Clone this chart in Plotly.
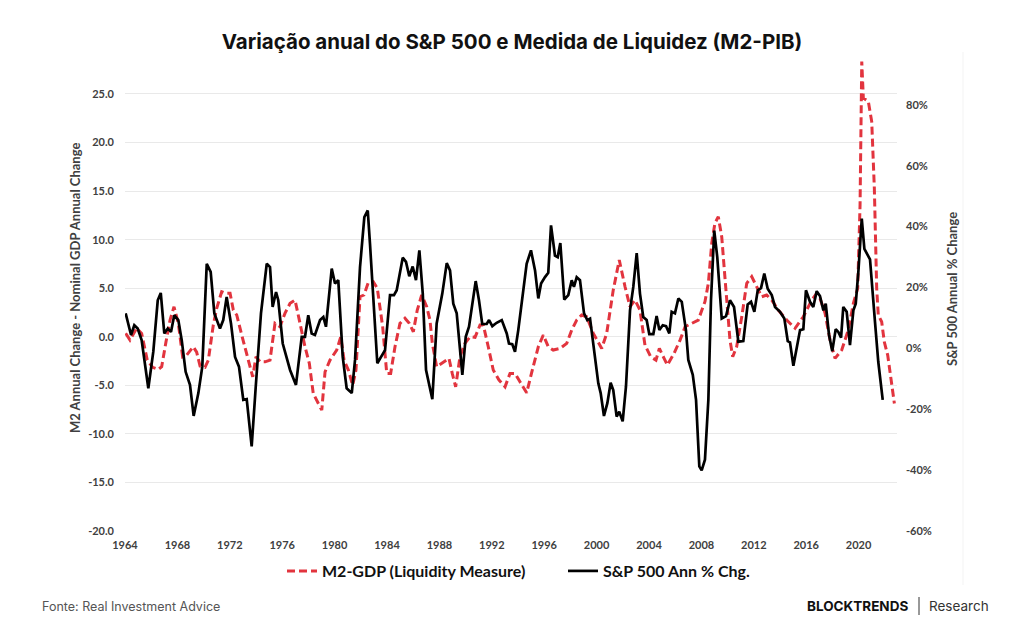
import plotly.graph_objects as go

# ---- Data ----
m2_years = [1964.05, 1964.38, 1964.89, 1965.27, 1965.70, 1966.11, 1966.54, 1966.80, 1967.13, 1967.44,
            1967.74, 1968.07, 1968.40, 1968.71, 1969.21, 1969.47, 1969.73, 1970.11, 1970.36, 1970.74,
            1971.00, 1971.38, 1971.69, 1972.02, 1972.27, 1972.53, 1972.91, 1973.29, 1973.75, 1974.00,
            1974.31, 1974.69, 1975.07, 1975.45, 1975.83, 1976.21, 1976.60, 1976.98, 1977.36, 1977.74,
            1978.07, 1978.37, 1978.76, 1979.02, 1979.27, 1979.65, 1980.16, 1980.47, 1980.72, 1981.05,
            1981.38, 1981.63, 1981.94, 1982.24, 1982.57, 1982.95, 1983.26, 1983.67, 1983.98, 1984.28,
            1984.61, 1984.99, 1985.37, 1985.70, 1986.01, 1986.31, 1986.65, 1987.03, 1987.28, 1987.46,
            1987.79, 1988.18, 1988.73, 1988.98, 1989.24, 1989.57, 1989.95, 1990.34, 1990.72, 1991.10,
            1991.35, 1991.73, 1992.11, 1992.55, 1993.01, 1993.39, 1993.77, 1994.15, 1994.66, 1995.09,
            1995.55, 1995.93, 1996.31, 1996.69, 1997.21, 1997.72, 1998.10, 1998.48, 1998.86, 1999.24,
            1999.75, 2000.39, 2000.77, 2001.27, 2001.73, 2002.17, 2002.55, 2002.93, 2003.31, 2003.69,
            2004.13, 2004.53, 2004.79, 2005.15, 2005.40, 2005.91, 2006.37, 2006.75, 2007.26, 2007.76,
            2008.27, 2008.53, 2008.79, 2009.03, 2009.29, 2009.55, 2009.73, 2009.93, 2010.18, 2010.39,
            2010.69, 2011.08, 2011.46, 2011.84, 2012.22, 2012.60, 2012.98, 2013.37, 2013.87, 2014.51,
            2015.15, 2015.78, 2016.42, 2016.80, 2017.05, 2017.44, 2017.82, 2018.20, 2018.71, 2019.21,
            2019.60, 2019.93, 2020.11, 2020.24, 2020.36, 2020.74, 2021.00, 2021.20, 2021.38, 2021.50,
            2021.76, 2021.96, 2022.22, 2022.53, 2022.73]
m2_gdp = [0.35, -0.34, 0.87, 0.35, -2.40, -3.15, -3.36, -3.09, -0.52, 1.72,
          3.09, 1.38, -2.06, -1.89, -1.03, -1.58, -3.02, -3.15, -2.40, 1.21,
          2.93, 4.64, 4.47, 4.47, 2.75, 2.24, 0.18, -1.89, -4.12, -2.06,
          -2.58, -2.58, -2.40, 1.38, 1.03, 2.41, 3.44, 3.78, 1.38, -1.03,
          -2.74, -5.84, -6.87, -7.56, -3.61, -2.40, -1.37, 0.00, -2.40, -3.43,
          -4.98, -3.43, 4.12, 4.30, 5.57, 5.67, 4.99, 1.03, -3.77, -3.77,
          -1.03, 1.38, 1.90, 1.38, 0.52, 2.75, 4.30, 3.09, 1.72, -0.68,
          -3.09, -2.74, -2.23, -3.77, -5.15, -2.06, -0.68, 0.00, -0.06, 1.21,
          1.21, -1.03, -3.43, -4.46, -5.15, -3.77, -3.77, -4.64, -5.77, -3.43,
          -1.03, 0.18, -1.03, -1.37, -1.20, -0.68, 0.69, 1.72, 2.24, 2.06,
          0.35, -1.20, 0.35, 4.81, 7.90, 5.15, 3.09, 3.78, 2.75, -0.86,
          -2.06, -2.40, -1.20, -2.23, -2.92, -1.71, -0.34, 1.03, 1.38, 1.72,
          3.61, 5.51, 9.63, 11.69, 12.37, 10.31, 7.22, 3.78, -0.34, -2.06,
          -1.03, 2.06, 5.51, 6.19, 5.15, 4.12, 4.30, 3.78, 2.75, 1.72,
          0.87, 2.06, 3.78, 4.47, 3.96, 2.41, -0.34, -2.23, -1.37, 0.69,
          3.44, 4.99, 13.58, 28.35, 24.58, 24.23, 22.16, 15.30, 4.99, 2.24,
          1.55, -0.52, -1.89, -4.98, -6.87]

spx_years = [1964.05, 1964.46, 1964.71, 1964.97, 1965.27, 1965.78, 1966.16, 1966.50, 1966.73, 1967.00,
             1967.26, 1967.51, 1967.76, 1968.07, 1968.33, 1968.63, 1968.96, 1969.24, 1969.60, 1969.90,
             1970.24, 1970.54, 1970.82, 1971.25, 1971.50, 1971.76, 1972.09, 1972.40, 1972.70, 1973.03,
             1973.29, 1973.67, 1973.98, 1974.38, 1974.82, 1975.07, 1975.27, 1975.53, 1975.70, 1976.04,
             1976.60, 1977.05, 1977.49, 1977.74, 1977.99, 1978.25, 1978.50, 1978.89, 1979.14, 1979.34,
             1979.78, 1980.03, 1980.28, 1980.62, 1980.92, 1981.31, 1981.56, 1981.94, 1982.27, 1982.53,
             1982.70, 1983.26, 1983.85, 1984.23, 1984.53, 1984.74, 1985.20, 1985.45, 1985.70, 1985.96,
             1986.21, 1986.47, 1986.73, 1986.98, 1987.46, 1987.79, 1988.22, 1988.56, 1988.81, 1989.06,
             1989.32, 1989.75, 1990.01, 1990.26, 1990.77, 1991.02, 1991.27, 1991.61, 1991.79, 1992.04,
             1992.37, 1992.76, 1993.14, 1993.31, 1993.56, 1993.77, 1994.02, 1994.33, 1994.66, 1994.99,
             1995.30, 1995.55, 1995.76, 1996.06, 1996.31, 1996.52, 1996.82, 1997.03, 1997.23, 1997.53,
             1997.84, 1998.10, 1998.27, 1998.48, 1998.73, 1999.04, 1999.29, 1999.50, 1999.75, 2000.13,
             2000.31, 2000.56, 2000.82, 2001.07, 2001.27, 2001.53, 2001.73, 2001.99, 2002.24, 2002.55,
             2002.80, 2003.06, 2003.31, 2003.56, 2003.82, 2004.02, 2004.33, 2004.58, 2004.79, 2005.05,
             2005.30, 2005.55, 2005.73, 2005.98, 2006.24, 2006.50, 2006.82, 2007.00, 2007.34, 2007.59,
             2007.84, 2008.02, 2008.27, 2008.53, 2008.73, 2008.98, 2009.21, 2009.55, 2009.88, 2010.18,
             2010.49, 2010.82, 2011.20, 2011.53, 2011.79, 2012.04, 2012.30, 2012.55, 2012.80, 2013.06,
             2013.37, 2013.62, 2014.00, 2014.33, 2014.59, 2014.76, 2015.02, 2015.27, 2015.53, 2015.78,
             2015.98, 2016.29, 2016.54, 2016.80, 2017.05, 2017.31, 2017.49, 2017.74, 2017.99, 2018.25,
             2018.45, 2018.66, 2018.83, 2019.09, 2019.34, 2019.60, 2019.78, 2019.98, 2020.24, 2020.44,
             2020.70, 2020.87, 2021.25, 2021.50, 2021.84]
spx_chg = [11.5, 4.4, 7.6, 6.5, 2.7, -13.1, -1.1, 15.8, 18.2, 4.9,
           6.5, 5.4, 10.9, 9.3, 2.7, -7.7, -12.0, -22.2, -14.7, -6.0,
           27.8, 25.1, 11.5, 6.5, 9.3, 16.9, 8.2, -2.8, -6.0, -16.9,
           -16.7, -32.2, -12.6, 11.5, 27.8, 26.7, 13.6, 18.5, 15.8, 1.6,
           -7.1, -12.0, 3.8, 3.8, 10.9, 4.9, 4.4, 9.3, 10.3, 7.1,
           26.2, 21.3, 22.4, -2.8, -13.1, -14.7, -3.8, 26.7, 43.1, 45.3,
           34.4, -4.9, -0.6, 17.5, 17.5, 19.1, 29.8, 28.4, 23.7, 26.9,
           22.4, 32.2, 18.0, -7.1, -16.7, 8.2, 18.0, 28.0, 25.6, 14.7,
           11.5, -8.7, 3.8, 7.1, 22.1, 15.8, 8.0, 8.0, 9.3, 7.3,
           8.4, 9.3, 4.9, 1.6, 1.4, -1.1, 6.0, 16.9, 27.8, 32.2,
           25.6, 16.4, 21.3, 23.4, 24.8, 40.4, 30.5, 30.0, 34.6, 16.0,
           17.5, 22.4, 20.2, 23.4, 22.4, 11.5, 9.3, 9.8, 1.6, -11.5,
           -14.7, -22.2, -18.0, -11.3, -13.7, -22.4, -20.8, -24.0, -12.6, 12.5,
           20.2, 31.3, 18.0, 10.3, 9.3, 4.7, 4.7, 10.6, 6.0, 7.6,
           7.3, 4.9, 12.0, 11.5, 16.4, 15.3, 6.0, -3.8, -8.7, -16.9,
           -38.8, -40.1, -36.6, -16.9, 15.8, 38.7, 30.0, 9.8, 10.6, 15.8,
           13.6, 2.2, 2.4, 14.4, 15.3, 12.0, 19.1, 19.8, 24.6, 19.6,
           17.5, 13.6, 12.0, 9.8, 2.4, 2.0, -5.7, 0.0, 6.0, 6.3,
           19.1, 15.3, 13.6, 18.8, 17.2, 12.5, 14.7, 4.4, -0.9, 6.3,
           5.4, 3.5, 13.6, 12.0, 1.1, 12.5, 14.7, 25.1, 42.6, 32.7,
           30.5, 29.2, 8.7, -4.4, -16.9]

x_ticks = list(range(1964, 2021, 4))
left_ticks = [-20, -15, -10, -5, 0, 5, 10, 15, 20, 25]
right_ticks = [-60, -40, -20, 0, 20, 40, 60, 80]

TITLE = "Variação anual do S&P 500 e Medida de Liquidez (M2-PIB)"
LEFT_TITLE = "M2 Annual Change - Nominal GDP Annual Change"
RIGHT_TITLE = "S&P 500 Annual % Change"
SOURCE = "Fonte: Real Investment Advice"

RED = "#e2343e"
TICK_COLOR = "#404040"
tickfont = dict(family="Lato", size=11, color=TICK_COLOR, weight="bold")

# plot area in pixels (top extended so the 2020 spike is not clipped)
PL, PR, PT, PB = 125, 897, 56, 531

fig = go.Figure()
fig.add_trace(go.Scatter(
    x=m2_years, y=m2_gdp, mode="lines", name="M2-GDP (Liquidity Measure)",
    line=dict(color=RED, width=3, dash="8px,4px"), yaxis="y"))
fig.add_trace(go.Scatter(
    x=spx_years, y=spx_chg, mode="lines", name="S&P 500 Ann % Chg.",
    line=dict(color="#000000", width=2.7), yaxis="y2"))


def px_x(px):
    return (px - PL) / (PR - PL)


def px_y(py):
    return (PB - py) / (PB - PT)


fig.update_layout(
    width=1024, height=644,
    margin=dict(l=PL, r=1024 - PR, t=PT, b=644 - PB),
    paper_bgcolor="white", plot_bgcolor="white",
    title=dict(text=TITLE, x=0.5, xanchor="center", y=1 - 42 / 644, yanchor="middle",
               yref="container",
               font=dict(family="Inter", size=20.5, color="#111111", weight="bold")),
    xaxis=dict(range=[1964, 2022.93], tickvals=x_ticks, ticktext=[str(v) for v in x_ticks],
               showgrid=False, zeroline=False, showline=False, ticks="",
               tickfont=tickfont, ticklabelstandoff=6),
    yaxis=dict(range=[-20, 28.91], tickvals=left_ticks,
               ticktext=[f"{v:.1f}" for v in left_ticks],
               showgrid=True, gridcolor="#e9e9e9", gridwidth=1, zeroline=False,
               showline=False, ticks="", tickfont=tickfont, ticklabelstandoff=10),
    yaxis2=dict(range=[-60, 96.05], overlaying="y", side="right", tickvals=right_ticks,
                ticktext=[f"{v}%" for v in right_ticks], showgrid=False, zeroline=False,
                showline=False, ticks="", tickfont=tickfont, ticklabelstandoff=8),
    legend=dict(orientation="h", x=px_x(282), xanchor="left", y=px_y(571), yanchor="middle",
                font=dict(family="Lato", size=16, color="#111111", weight="bold"),
                bgcolor="rgba(0,0,0,0)", itemwidth=30, entrywidth=236, tracegroupgap=0),
    showlegend=True,
)

annotations = [
    dict(text=LEFT_TITLE, x=px_x(75), y=px_y(288), xref="paper", yref="paper",
         textangle=-90, showarrow=False, xanchor="center", yanchor="middle",
         font=dict(family="Lato", size=13, color=TICK_COLOR, weight="bold")),
    dict(text=RIGHT_TITLE, x=px_x(952), y=px_y(289), xref="paper", yref="paper",
         textangle=-90, showarrow=False, xanchor="center", yanchor="middle",
         font=dict(family="Lato", size=13, color=TICK_COLOR, weight="bold")),
    dict(text=SOURCE, x=px_x(40), y=px_y(606), xref="paper", yref="paper",
         showarrow=False, xanchor="left", yanchor="middle",
         font=dict(family="Inter", size=12.5, color="#555555")),
    dict(text="BLOCKTRENDS", x=px_x(910), y=px_y(606), xref="paper", yref="paper",
         showarrow=False, xanchor="right", yanchor="middle",
         font=dict(family="Inter", size=13.5, color="#111111", weight="bold")),
    dict(text="Research", x=px_x(927), y=px_y(606), xref="paper", yref="paper",
         showarrow=False, xanchor="left", yanchor="middle",
         font=dict(family="Inter", size=13.5, color="#333333")),
]
fig.update_layout(annotations=annotations)

fig.add_shape(type="line", xref="paper", yref="paper",
              x0=px_x(919), x1=px_x(919), y0=px_y(597), y1=px_y(615),
              line=dict(color="#333333", width=1))
fig.add_shape(type="line", xref="paper", yref="paper",
              x0=px_x(963), x1=px_x(963), y0=px_y(52), y1=px_y(585),
              line=dict(color="#f3f3f3", width=1))

fig.write_html("out.html")
